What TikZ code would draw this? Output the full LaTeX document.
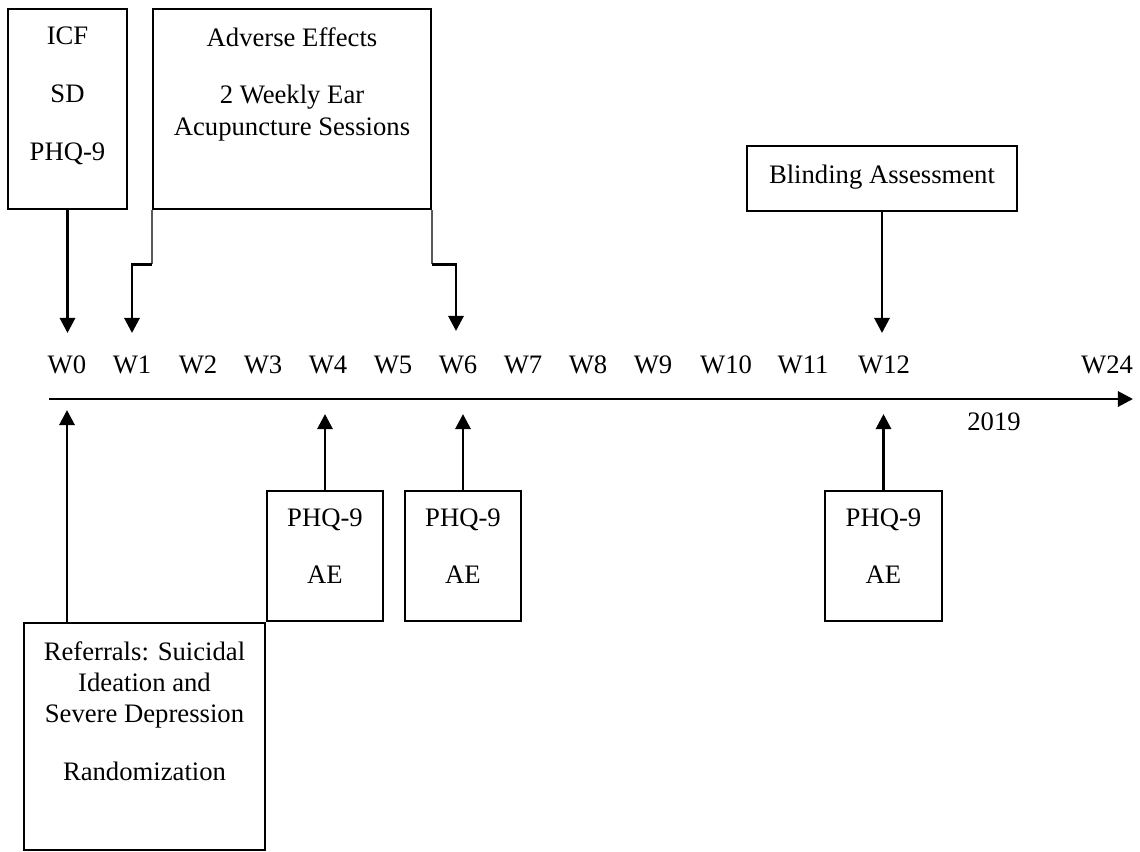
\documentclass[tikz,border=0pt]{standalone}
\usepackage{fontspec}
\setmainfont{Liberation Serif}
\usetikzlibrary{arrows.meta, positioning, fit}

\begin{document}
\begin{tikzpicture}[x=0.45pt, y=-0.45pt,
    every node/.style={font=\fontsize{12}{14}\selectfont},
    box/.style={draw, line width=1pt, inner sep=0pt},
    txt/.style={inner sep=0pt, align=center},
    wk/.style={inner sep=0pt},
    arr/.style={line width=1.3pt, -{Triangle[length=6.8pt, width=6.8pt]}},
    link/.style={line width=0.7pt, black!65}]
    \useasboundingbox (0,0) rectangle (1140,851);

    % Boxes above the timeline
    \node[box, fit={(8,9) (127,209)}] (icf) {};
    \node[txt, below=8.55pt of icf.north] (icftxt) {ICF\\[12pt]SD\\[12pt]PHQ-9};
    \node[box, fit={(153,9) (431,209)}] (ae) {};
    \node[txt, below=8.55pt of ae.north] (aetxt) {Adverse Effects\\[12pt]2 Weekly Ear\\Acupuncture Sessions};
    \node[box, fit={(747,146) (1017,211)}] (blind) {};
    \node[txt, below=9pt of blind.north] (blindtxt) {Blinding Assessment};

    % Timeline
    \coordinate (axL) at (49,399);
    \coordinate (axR) at (1133,399);
    \draw[arr] (axL) -- (axR);
    \node[wk] (year) at (994,422) {2019};
    \foreach \w/\x in {0/67, 1/132, 2/198, 3/263, 4/328, 5/393, 6/458, 7/523, 8/588, 9/653, 10/726, 11/803, 12/884, 24/1107}
        \node[wk] (w\w) at (\x,365) {W\w};

    % Arrow ends
    \coordinate (t0) at (67,333);
    \coordinate (t1) at (132,333);
    \coordinate (t6) at (456,331);
    \coordinate (t12) at (881,333);
    \coordinate (u0) at (67,410);
    \coordinate (u4) at (325,414);
    \coordinate (u6) at (463,414);
    \coordinate (u12) at (883,414);

    % Arrows down to the timeline
    \draw[arr] (icf.south) -- (icf.south |- t0);
    \draw[link] (ae.south west) -- ++(0,54) coordinate (aeL);
    \draw[arr] (aeL) -| (t1);
    \draw[link] (ae.south east) -- ++(0,54) coordinate (aeR);
    \draw[arr] (aeR) -| (t6);
    \draw[arr] (blind.south) -- (blind.south |- t12);

    % Boxes below the timeline
    \node[box, fit={(24,623) (265,850)}] (ref) {};
    \node[txt, below=8.55pt of ref.north] (reftxt) {Referrals: Suicidal\\Ideation and\\Severe Depression\\[12pt]Randomization};
    \node[box, fit={(267,491) (383,621)}] (p4) {};
    \node[txt, below=8.1pt of p4.north] (p4txt) {PHQ-9\\[12pt]AE};
    \node[box, fit={(405,491) (521,621)}] (p6) {};
    \node[txt, below=8.1pt of p6.north] (p6txt) {PHQ-9\\[12pt]AE};
    \node[box, fit={(825,491) (942,621)}] (p12) {};
    \node[txt, below=8.1pt of p12.north] (p12txt) {PHQ-9\\[12pt]AE};

    % Arrows up to the timeline
    \draw[arr] (u0 |- ref.north) -- (u0);
    \draw[arr] (p4.north) -- (p4.north |- u4);
    \draw[arr] (p6.north) -- (p6.north |- u6);
    \draw[arr] (p12.north) -- (p12.north |- u12);
\end{tikzpicture}
\end{document}
